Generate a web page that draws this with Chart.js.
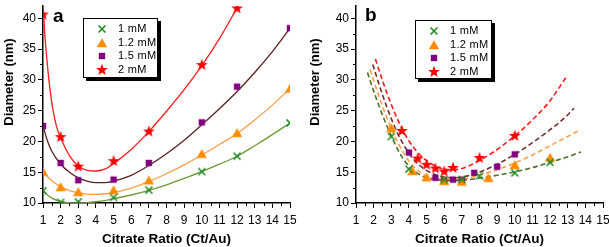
<!DOCTYPE html>
<html>
<head>
<meta charset="utf-8">
<script src="https://cdn.jsdelivr.net/npm/chart.js@4.4.1/dist/chart.umd.min.js"></script>
<style>
body { margin: 0; background: #fff; font-family: Arial, "Liberation Sans", sans-serif; }
#wrap { position: relative; width: 609px; height: 247px; overflow: hidden; }
.panel { position: absolute; top: 0; height: 247px; }
.ytitle { position: absolute; width: 140px; height: 16px; line-height: 16px; text-align: center;
  font-weight: bold; font-size: 13px; color: #000; transform: rotate(-90deg); white-space: nowrap; }
.tag { position: absolute; font-weight: bold; font-size: 19px; line-height: 19px; color: #000; }
.legend { position: absolute; border: 1px solid #000; box-shadow: 3px 3px 0 #000; background: #fff;
  font-size: 11px; color: #000; box-sizing: border-box; padding-top: 3px; }
.legend .row { position: relative; height: 13.7px; line-height: 13.7px; }
.legend img { position: absolute; left: 11px; top: 0px; }
.legend span { position: absolute; left: 34px; white-space: nowrap; letter-spacing: 0.3px; }
</style>
</head>
<body>
<div id="wrap">
  <div class="panel" style="left:0;width:300px"><canvas id="chart-a" width="300" height="247"></canvas></div>
  <div class="panel" style="left:300px;width:309px"><canvas id="chart-b" width="309" height="247"></canvas></div>
  <div class="ytitle" style="left:-61.5px;top:74px">Diameter (nm)</div>
  <div class="ytitle" style="left:245px;top:74px">Diameter (nm)</div>
  <div class="tag" style="left:53px;top:6px">a</div>
  <div class="tag" style="left:365px;top:5px">b</div>
  <div class="legend" id="legend-a" style="left:83px;top:18px;width:75px;height:60px"></div>
  <div class="legend" id="legend-b" style="left:415px;top:20px;width:77px;height:59px"></div>
</div>
<script>
const seriesLabels = ['1 mM', '1.2 mM', '1.5 mM', '2 mM'];
const xTitle = 'Citrate Ratio (Ct/Au)';
const xTicks = [1, 2, 3, 4, 5, 6, 7, 8, 9, 10, 11, 12, 13, 14, 15];
const yTicks = [10, 15, 20, 25, 30, 35, 40];
const xMinor = [1.5, 2.5, 3.5, 4.5, 5.5, 6.5, 7.5, 8.5, 9.5, 10.5, 11.5, 12.5, 13.5, 14.5];
const yMinor = [12.5, 17.5, 22.5, 27.5, 32.5, 37.5];

// panel a - measured points
const ratioA = [1, 2, 3, 5, 7, 10, 12, 15];
const ratioA2 = [1, 2, 3, 5, 7, 10, 12];
const diamA1 = [12.0, 10.1, 10.2, 10.9, 12.1, 15.1, 17.6, 23.0];
const diamA12 = [15.1, 12.6, 11.8, 12.1, 13.7, 18.0, 21.4, 28.6];
const diamA15 = [22.5, 16.5, 13.7, 13.8, 16.5, 23.1, 28.9, 38.4];
const diamA2 = [40.6, 20.7, 15.9, 16.8, 21.6, 32.4, 41.6];

// panel a - fitted curves
const fitAx = [1, 1.25, 1.5, 2, 2.5, 3, 3.5, 4, 4.5, 5, 6, 7, 8, 9, 10, 11, 12, 13, 14, 15];
const fitA1 = [12.0, 11.3, 10.8, 10.25, 10.05, 10.0, 10.05, 10.2, 10.4, 10.7, 11.3, 12.05, 12.95, 14.0, 15.1, 16.3, 17.6, 19.3, 21.1, 23.0];
const fitA12 = [15.2, 14.3, 13.6, 12.65, 12.0, 11.65, 11.45, 11.4, 11.5, 11.7, 12.4, 13.5, 14.75, 16.2, 17.8, 19.5, 21.3, 23.5, 25.9, 28.6];
const fitA15 = [22.5, 20.1, 18.4, 16.3, 15.0, 14.1, 13.55, 13.3, 13.3, 13.55, 14.5, 16.1, 18.0, 20.2, 22.7, 25.3, 28.1, 31.2, 34.6, 38.4];
const fitA2x = [1, 1.1, 1.2, 1.35, 1.5, 1.75, 2, 2.5, 3, 3.5, 4, 4.5, 5, 6, 7, 8, 9, 10, 11, 12];
const fitA2 = [42.3, 37.5, 34.0, 29.6, 26.3, 22.6, 20.6, 17.7, 16.0, 15.3, 15.2, 15.5, 16.4, 18.7, 21.6, 24.9, 28.4, 32.3, 36.7, 41.7];

// panel b - measured points
const ratioB1 = [3, 4, 6, 7, 8, 10, 12];
const diamB1 = [20.8, 15.5, 13.8, 13.8, 14.4, 14.9, 16.6];
const ratioB12 = [3, 4.2, 5, 6, 7, 8.5, 10, 12];
const diamB12 = [22.2, 15.2, 14.2, 13.6, 13.5, 14.1, 16.2, 17.4];
const ratioB15 = [4, 5.5, 6, 6.5, 7, 7.7, 9, 10];
const diamB15 = [18.2, 14.1, 13.7, 13.8, 13.8, 14.9, 15.9, 17.9];
const ratioB2 = [3.6, 4.5, 5, 5.5, 6, 6.5, 8, 10];
const diamB2 = [21.7, 17.2, 16.2, 15.6, 15.1, 15.7, 17.3, 20.9];

// panel b - fitted curves
const fitB1x = [1.65, 2, 2.5, 3, 3.5, 4, 4.5, 5, 5.5, 6, 7, 8, 9, 10, 11, 12, 13, 13.75];
const fitB1 = [31.2, 28.2, 24.3, 20.9, 18.0, 16.0, 14.8, 14.1, 13.8, 13.65, 13.7, 14.05, 14.5, 15.05, 15.75, 16.6, 17.5, 18.3];
const fitB12x = [1.8, 2, 2.5, 3, 3.5, 4, 4.5, 5, 5.5, 6, 7, 8, 9, 10, 11, 12, 13, 13.65];
const fitB12 = [31.7, 29.9, 25.7, 22.1, 19.1, 16.8, 15.3, 14.4, 14.0, 13.8, 13.9, 14.5, 15.4, 16.5, 17.8, 19.3, 20.8, 21.8];
const fitB15x = [1.95, 2.5, 3, 3.5, 4, 4.5, 5, 5.5, 6, 6.5, 7, 8, 9, 10, 11, 12, 13, 13.35];
const fitB15 = [32.5, 27.6, 23.7, 20.5, 18.1, 16.4, 15.3, 14.6, 14.2, 14.1, 14.2, 15.0, 16.3, 17.9, 19.8, 21.9, 24.3, 25.4];
const fitB2x = [2.1, 2.5, 3, 3.5, 4, 4.5, 5, 5.5, 6, 6.5, 7, 8, 9, 10, 11, 12, 12.9];
const fitB2 = [33.4, 29.9, 26.0, 22.7, 20.1, 18.2, 16.9, 16.0, 15.5, 15.4, 15.6, 16.9, 18.7, 20.9, 23.5, 26.6, 30.4];

const markerColors = ['#1f8a1f', '#ff8c00', '#800080', '#ff0000'];
const lineColorsA = ['#6b9b37', '#ff9d45', '#5c2020', '#ff1a1a'];
const lineColorsB = ['#4e7026', '#ffa04d', '#6e3030', '#ff1a1a'];
const markerKinds = ['cross', 'triangle', 'square', 'star'];

const makeMarker = (kind, color) => {
    const c = document.createElement('canvas');
    c.width = 14;
    c.height = 14;
    const g = c.getContext('2d');
    g.translate(7, 7);
    g.fillStyle = color;
    g.strokeStyle = color;
    if (kind === 'cross') {
        g.lineWidth = 1.6;
        g.beginPath();
        g.moveTo(-3.5, -3.5); g.lineTo(3.5, 3.5);
        g.moveTo(3.5, -3.5); g.lineTo(-3.5, 3.5);
        g.stroke();
    } else if (kind === 'triangle') {
        g.beginPath();
        g.moveTo(0, -4.8); g.lineTo(5.2, 4.2); g.lineTo(-5.2, 4.2);
        g.closePath();
        g.fill();
    } else if (kind === 'square') {
        g.fillRect(-3.2, -3.2, 6.4, 6.4);
    } else {
        g.beginPath();
        for (let i = 0; i < 10; i++) {
            const r = i % 2 ? 2.6 : 6.2;
            const a = -Math.PI / 2 + i * Math.PI / 5;
            g.lineTo(Math.cos(a) * r, Math.sin(a) * r);
        }
        g.closePath();
        g.fill();
    }
    return c;
};

const markers = markerKinds.map((k, i) => makeMarker(k, markerColors[i]));

const toPoints = (xs, ys) => xs.map((x, i) => ({ x: x, y: ys[i] }));

const minorTicks = {
    id: 'minorTicks',
    afterDraw(chart) {
        const { ctx, scales } = chart;
        const x = scales.x, y = scales.y;
        ctx.save();
        ctx.strokeStyle = '#000';
        ctx.lineWidth = 1;
        ctx.beginPath();
        xMinor.forEach(v => {
            const px = Math.round(x.getPixelForValue(v)) + 0.5;
            ctx.moveTo(px, x.top);
            ctx.lineTo(px, x.top + 3);
        });
        yMinor.forEach(v => {
            const py = Math.round(y.getPixelForValue(v)) + 0.5;
            ctx.moveTo(y.right, py);
            ctx.lineTo(y.right - 3, py);
        });
        ctx.stroke();
        ctx.restore();
    }
};

const tickFont = { family: 'Arial, "Liberation Sans", sans-serif', size: 12 };

const buildChart = (id, yWidth, padRight, points, curves, lineColors, dash, lineWidth) => {
    const datasets = [];
    points.forEach((p, i) => {
        datasets.push({
            label: seriesLabels[i],
            data: toPoints(p[0], p[1]),
            showLine: false,
            pointStyle: markers[i],
            pointRadius: 5,
            order: 0
        });
    });
    curves.forEach((c, i) => {
        datasets.push({
            label: seriesLabels[i] + ' fit',
            data: toPoints(c[0], c[1]),
            showLine: true,
            pointRadius: 0,
            borderColor: lineColors[i],
            borderWidth: lineWidth,
            borderDash: dash,
            cubicInterpolationMode: 'monotone',
            order: 1
        });
    });

    return new Chart(document.getElementById(id), {
        type: 'scatter',
        data: { datasets: datasets },
        options: {
            responsive: false,
            animation: false,
            events: [],
            devicePixelRatio: 1,
            layout: { padding: { top: 4, right: padRight, left: 0, bottom: 0 } },
            plugins: { legend: { display: false }, tooltip: { enabled: false } },
            scales: {
                x: {
                    type: 'linear',
                    min: 1,
                    max: 15,
                    afterBuildTicks: (s) => { s.ticks = xTicks.map(v => ({ value: v })); },
                    afterFit: (s) => { s.height = 44; s.paddingLeft = 0; s.paddingRight = 0; },
                    ticks: { autoSkip: false, maxRotation: 0, color: '#000', font: tickFont, padding: 5 },
                    grid: { drawOnChartArea: false, drawTicks: true, tickLength: 5, color: '#000' },
                    border: { color: '#000', width: 1.5 },
                    title: {
                        display: true,
                        text: xTitle,
                        color: '#000',
                        font: { family: 'Arial, "Liberation Sans", sans-serif', size: 13.5, weight: 'bold' },
                        padding: { top: 0, bottom: 0 }
                    }
                },
                y: {
                    type: 'linear',
                    min: 10,
                    max: 42,
                    afterBuildTicks: (s) => { s.ticks = yTicks.map(v => ({ value: v })); },
                    afterFit: (s) => { s.width = yWidth; s.paddingTop = 0; s.paddingBottom = 0; },
                    ticks: { color: '#000', font: tickFont, padding: 2 },
                    grid: { drawOnChartArea: false, drawTicks: true, tickLength: 5, color: '#000' },
                    border: { color: '#000', width: 1.5 }
                }
            }
        },
        plugins: [minorTicks]
    });
};

const buildLegend = (id) => {
    const box = document.getElementById(id);
    seriesLabels.forEach((label, i) => {
        const row = document.createElement('div');
        row.className = 'row';
        const img = document.createElement('img');
        img.src = markers[i].toDataURL();
        img.width = 14;
        img.height = 14;
        const span = document.createElement('span');
        span.innerText = label;
        row.appendChild(img);
        row.appendChild(span);
        box.appendChild(row);
    });
};

buildChart('chart-a', 43, 10,
    [[ratioA, diamA1], [ratioA, diamA12], [ratioA, diamA15], [ratioA2, diamA2]],
    [[fitAx, fitA1], [fitAx, fitA12], [fitAx, fitA15], [fitA2x, fitA2]],
    lineColorsA, [], 1.3);

buildChart('chart-b', 56, 5,
    [[ratioB1, diamB1], [ratioB12, diamB12], [ratioB15, diamB15], [ratioB2, diamB2]],
    [[fitB1x, fitB1], [fitB12x, fitB12], [fitB15x, fitB15], [fitB2x, fitB2]],
    lineColorsB, [5, 3], 1.6);

buildLegend('legend-a');
buildLegend('legend-b');
</script>
</body>
</html>
